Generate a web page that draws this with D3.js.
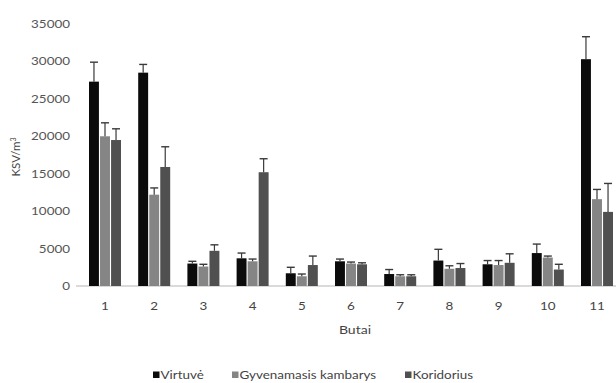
<!DOCTYPE html>
<html><head><meta charset="utf-8">
<script src="https://cdn.jsdelivr.net/npm/d3@7"></script>
<style>
body{margin:0;background:#fff;}
svg text{font-family:Lato,"Open Sans",sans-serif;fill:#444;}
</style></head>
<body><svg id="c" width="616" height="383"></svg>
<script>
const categories = ["1","2","3","4","5","6","7","8","9","10","11"];
const seriesNames = ["Virtuvė","Gyvenamasis kambarys","Koridorius"];
const virtuve      = [27300, 28500, 3000, 3700, 1700, 3300, 1600, 3400, 2900, 4400, 30300];
const virtuveErr   = [2600, 1100, 300, 700, 800, 300, 600, 1500, 500, 1200, 3000];
const gyvenamasis  = [20000, 12200, 2600, 3300, 1300, 3000, 1300, 2300, 2800, 3800, 11600];
const gyvenamErr   = [1800, 900, 300, 300, 300, 200, 200, 400, 600, 200, 1300];
const koridorius   = [19500, 15900, 4700, 15200, 2800, 2900, 1300, 2400, 3100, 2200, 9900];
const koridErr     = [1500, 2700, 800, 1800, 1200, 200, 200, 600, 1200, 700, 3800];
const yTicks = [0,5000,10000,15000,20000,25000,30000,35000];
const colors = ["#0b0b0b","#858585","#505050"];

const values = [virtuve, gyvenamasis, koridorius];
const errs = [virtuveErr, gyvenamErr, koridErr];

const svg = d3.select("#c");
const x = d3.scaleBand().domain(categories).range([80.4, 621.6]).padding(0);
const x1 = d3.scaleBand().domain(seriesNames).range([-16, 16]).paddingInner(0.1);
const y = d3.scaleLinear().domain([0,35000]).range([286, 24]);

// y tick labels
const yAxis = svg.append("g").attr("transform","translate(80,0)")
  .call(d3.axisLeft(y).tickValues(yTicks).tickSize(0).tickPadding(10).tickFormat(d3.format("d")));
yAxis.select(".domain").remove();
yAxis.selectAll("text").style("font-size","11px").style("fill","#555").attr("x",-10);

// x axis line
svg.append("line").attr("x1",76).attr("x2",616).attr("y1",y(0)).attr("y2",y(0))
  .attr("stroke","#b5b5b5").attr("stroke-width",1);

// bars
const groups = svg.append("g").selectAll("g").data(categories).join("g")
  .attr("transform", d => `translate(${x(d)+x.bandwidth()/2},0)`);
seriesNames.forEach((s, si) => {
  groups.append("rect")
    .attr("x", x1(s)).attr("width", x1.bandwidth())
    .attr("y", (d,i) => y(values[si][i]))
    .attr("height", (d,i) => y(0) - y(values[si][i]))
    .attr("fill", colors[si]);
  groups.append("line")
    .attr("x1", x1(s)+x1.bandwidth()/2).attr("x2", x1(s)+x1.bandwidth()/2)
    .attr("y1", (d,i) => y(values[si][i]))
    .attr("y2", (d,i) => y(values[si][i]+errs[si][i]))
    .attr("stroke","#3a3a3a").attr("stroke-width",1.2);
  groups.append("line")
    .attr("x1", x1(s)+x1.bandwidth()/2-4).attr("x2", x1(s)+x1.bandwidth()/2+4)
    .attr("y1", (d,i) => y(values[si][i]+errs[si][i]))
    .attr("y2", (d,i) => y(values[si][i]+errs[si][i]))
    .attr("stroke","#3a3a3a").attr("stroke-width",1.4);
});

// x labels
svg.append("g").selectAll("text").data(categories).join("text")
  .attr("x", d => x(d)+x.bandwidth()/2).attr("y", 310)
  .attr("text-anchor","middle").style("font-size","11px").text(d => d);

// axis titles
svg.append("text").attr("x",355).attr("y",334).attr("text-anchor","middle")
  .style("font-size","11.5px").text("Butai");
svg.append("text").attr("transform","translate(20,157) rotate(-90)")
  .attr("text-anchor","middle").style("font-size","11.5px")
  .html('KSV/m<tspan dy="-4" font-size="7">3</tspan>');

// legend
const legX = [153, 232, 405];
const leg = svg.append("g").selectAll("g").data(seriesNames).join("g")
  .attr("transform", (d,i) => `translate(${legX[i]},379)`);
leg.append("rect").attr("x",0).attr("y",-7.5).attr("width",6.5).attr("height",6.5)
  .attr("fill",(d,i)=>colors[i]);
leg.append("text").attr("x",7.5).attr("y",0).style("font-size","11px").text(d=>d);

// horizontal stretch of text to match the reference's wide glyphs
svg.selectAll("text").each(function(){
  if (this.getAttribute("transform") && this.getAttribute("transform").includes("rotate")) return;
  const w = this.getComputedTextLength();
  if (w > 0) d3.select(this).attr("textLength", w*1.22).attr("lengthAdjust","spacingAndGlyphs");
});
</script></body></html>
